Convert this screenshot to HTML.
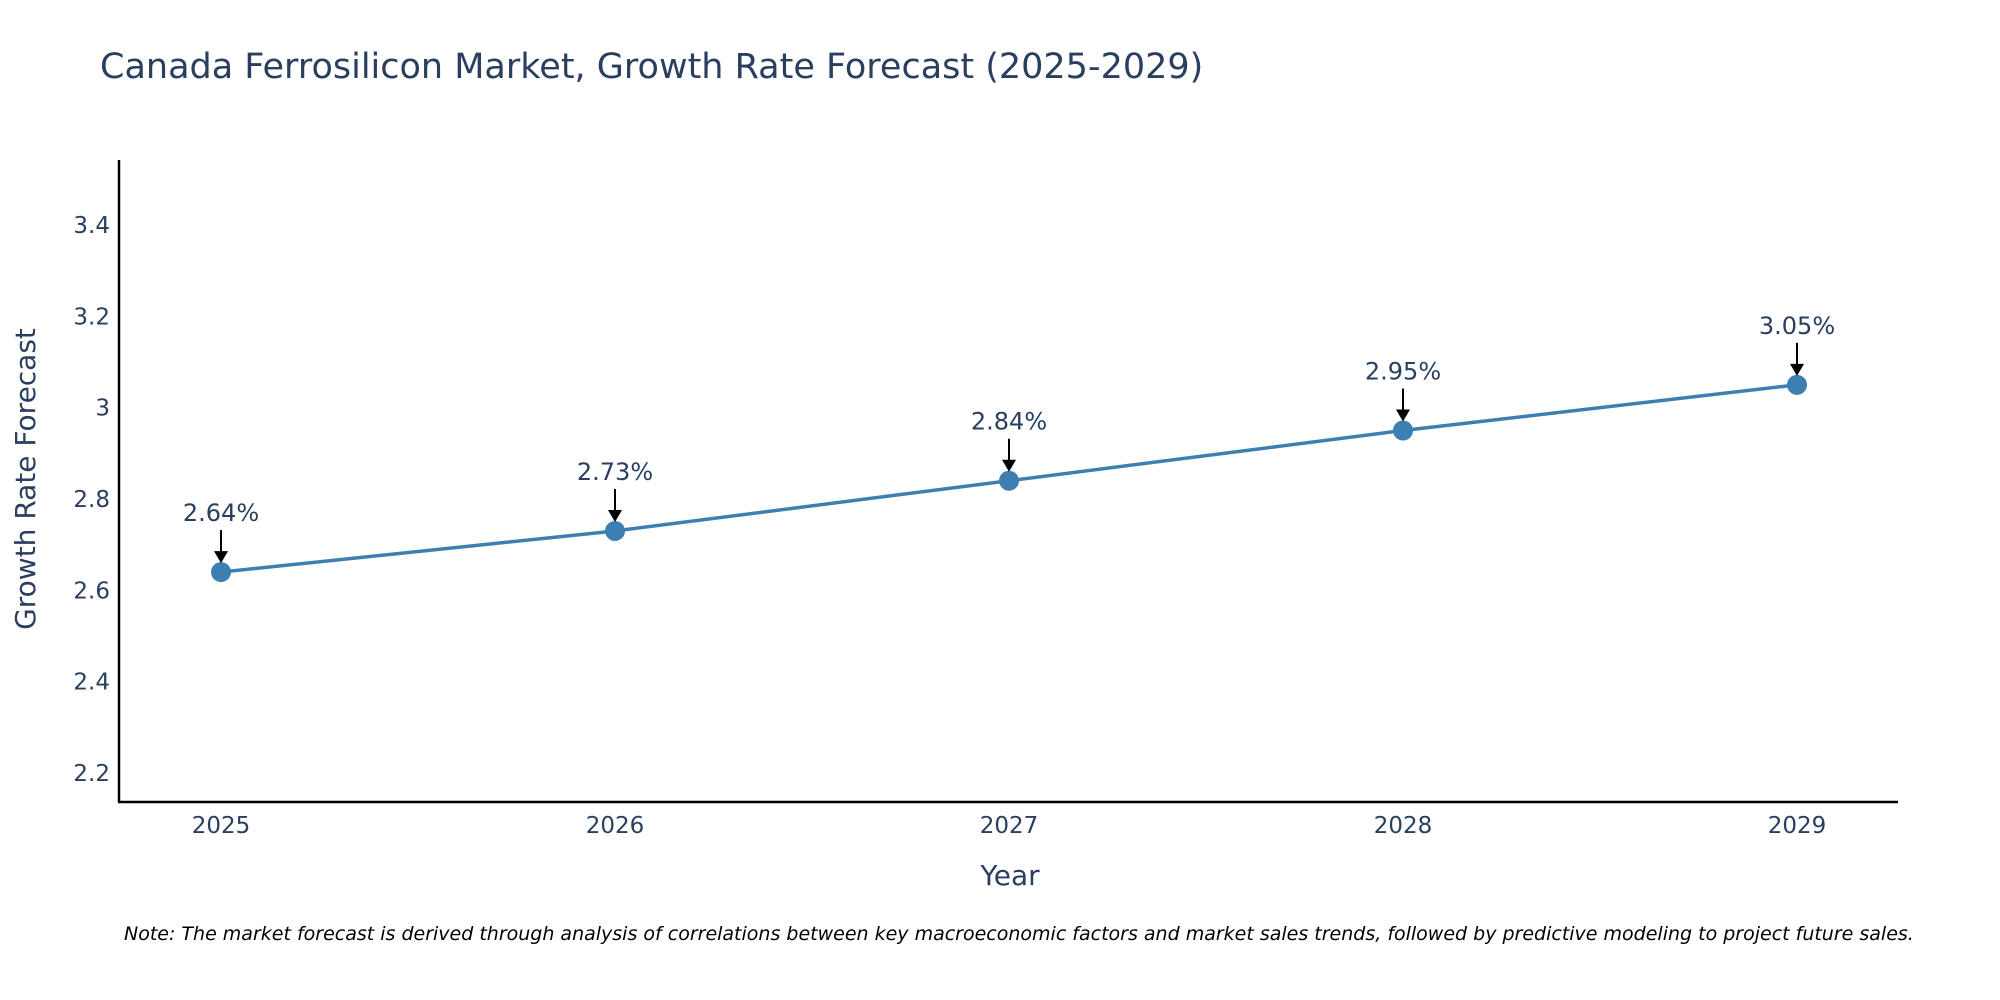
<!DOCTYPE html>
<html><head><meta charset="utf-8"><style>
body{margin:0;background:#fff;}
svg{display:block;font-family:"DejaVu Sans","Liberation Sans",sans-serif;}
</style></head><body>
<svg width="2000" height="1000" viewBox="0 0 2000 1000">
<text x="100" y="78" font-size="35" fill="#2a3f5f">Canada Ferrosilicon Market, Growth Rate Forecast (2025-2029)</text>
<g id="yticks"></g><g id="xticks"></g>
<line x1="119" y1="160" x2="119" y2="802" stroke="#000" stroke-width="2.5"/>
<line x1="118" y1="802" x2="1898" y2="802" stroke="#000" stroke-width="2.5"/>
<g id="series"></g>
<text x="1010" y="885" font-size="28" fill="#2a3f5f" text-anchor="middle">Year</text>
<text transform="translate(35,479) rotate(-90)" font-size="28" fill="#2a3f5f" text-anchor="middle">Growth Rate Forecast</text>
<text x="124" y="940" font-size="19" font-style="italic" fill="#000">Note: The market forecast is derived through analysis of correlations between key macroeconomic factors and market sales trends, followed by predictive modeling to project future sales.</text>
</svg>
<script>
const years=[2025,2026,2027,2028,2029];
const values=[2.64,2.73,2.84,2.95,3.05];
const labels=["2.64%","2.73%","2.84%","2.95%","3.05%"];
const yTicks=[2.2,2.4,2.6,2.8,3,3.2,3.4];
const NS="http://www.w3.org/2000/svg";
function xs(v){return 221+(v-2025)*(1797-221)/4;}
function ys(v){return 225+(3.4-v)*(773-225)/1.2;}
function mk(t,a,parent){const e=document.createElementNS(NS,t);for(const k in a)e.setAttribute(k,a[k]);parent.appendChild(e);return e;}
const yg=document.getElementById('yticks');
yTicks.forEach(t=>{const e=mk('text',{x:110,y:ys(t)+8,'font-size':23,fill:'#2a3f5f','text-anchor':'end'},yg);


e.textContent=String(t);});
const xg=document.getElementById('xticks');
years.forEach(t=>{const e=mk('text',{x:xs(t),y:833,'font-size':23,fill:'#2a3f5f','text-anchor':'middle'},xg);


e.textContent=String(t);});
const sg=document.getElementById('series');
const pts=years.map((y,i)=>xs(y)+','+ys(values[i])).join(' ');
const pl=mk('polyline',{points:pts,fill:'none',stroke:'#3d7fb0','stroke-width':3.5},sg);


years.forEach((y,i)=>{const cx=xs(y),cy=ys(values[i]);
const c=mk('circle',{cx:cx,cy:cy,r:10,fill:'#3d7fb0'},sg);


const l=mk('line',{x1:cx,y1:cy-42,x2:cx,y2:cy-20,stroke:'#000','stroke-width':2},sg);


const p=mk('polygon',{points:`${cx-7},${cy-21} ${cx+7},${cy-21} ${cx},${cy-9}`,fill:'#000'},sg);


const t=mk('text',{x:cx,y:cy-51,'font-size':24,fill:'#2a3f5f','text-anchor':'middle'},sg);


t.textContent=labels[i];});
</script>
</body></html>
